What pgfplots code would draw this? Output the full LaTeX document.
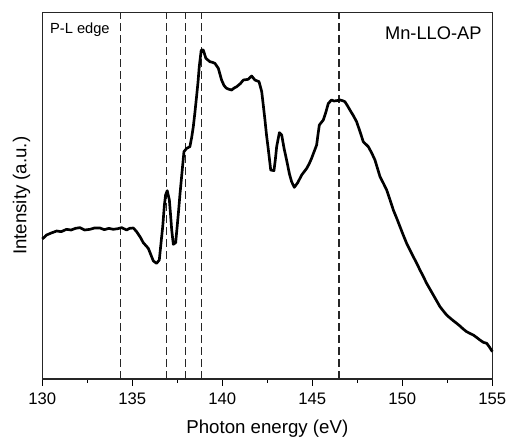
\documentclass[border=0pt]{standalone}
\usepackage{fontspec}
\setmainfont{Liberation Sans}
\usepackage{pgfplots}
\pgfplotsset{compat=1.18}
\begin{document}
\begin{tikzpicture}
\begin{axis}[
  scale only axis,
  width=337.5pt, height=274.7pt,
  xmin=130, xmax=155, ymin=0, ymax=1099,
  xtick={130,135,140,145,150,155},
  minor xtick={132.5,137.5,142.5,147.5,152.5},
  ytick=\empty,
  xtick pos=bottom,
  tick align=outside,
  major tick length=5pt,
  minor tick length=3pt,
  every tick/.style={black, line width=0.8pt},
  axis line style={line width=0.8pt, black!85},
  /pgf/number format/assume math mode=true,
  /pgf/number format/1000 sep={},
  tick label style={font=\fontsize{12.5}{14}\selectfont},
  xticklabel style={yshift=-2pt},
  xlabel={Photon energy (eV)},
  ylabel={Intensity (a.u.)},
  xlabel style={font=\fontsize{14}{16}\selectfont, at={(axis description cs:0.5,0)}, anchor=center, yshift=-37pt},
  ylabel style={font=\fontsize{14}{16}\selectfont, at={(axis description cs:-0.046,0.5)}, anchor=center},
  clip=false,
]
\addplot[black!85, line width=1.1pt, dash pattern=on 6pt off 3pt] coordinates {(134.35,0) (134.35,1099)};
\addplot[black!85, line width=1.1pt, dash pattern=on 6pt off 3pt] coordinates {(136.91,0) (136.91,1099)};
\addplot[black!85, line width=1.1pt, dash pattern=on 6pt off 3pt] coordinates {(137.96,0) (137.96,1099)};
\addplot[black!85, line width=1.1pt, dash pattern=on 6pt off 3pt] coordinates {(138.85,0) (138.85,1099)};
\addplot[black!85, line width=1.1pt, dash pattern=on 6pt off 3pt] coordinates {(146.48,0) (146.48,1099)};
\addplot[black, line width=2pt, line join=round] coordinates {
(130.00,420) (130.24,432) (130.50,438) (130.80,444) (131.05,442) (131.35,449) (131.60,447)
(131.85,452) (132.09,454) (132.35,447) (132.65,449) (132.90,453) (133.20,453) (133.45,448)
(133.70,452) (133.94,449) (134.20,451) (134.41,454) (134.69,447) (134.85,452) (135.06,453)
(135.24,442) (135.45,425) (135.61,409) (135.89,392) (136.17,354) (136.35,347) (136.50,357)
(136.60,410) (136.69,457) (136.78,520) (136.85,552) (136.94,565) (137.06,537) (137.13,490)
(137.19,447) (137.28,404) (137.41,409) (137.48,450) (137.56,497) (137.65,555) (137.74,607)
(137.87,682) (138.02,692) (138.20,697) (138.30,725) (138.39,757) (138.48,800) (138.57,847)
(138.65,890) (138.72,937) (138.83,987) (138.94,987) (139.09,962) (139.31,952) (139.45,950)
(139.59,947) (139.78,932) (139.96,897) (140.10,880) (140.24,872) (140.38,869) (140.52,867)
(140.66,873) (140.80,877) (141.00,886) (141.17,897) (141.30,898) (141.44,899) (141.63,909)
(141.81,897) (142.04,892) (142.19,862) (142.28,820) (142.37,777) (142.46,730) (142.56,687)
(142.69,627) (142.87,625) (142.95,660) (143.02,697) (143.17,739) (143.30,732) (143.43,692)
(143.52,670) (143.61,647) (143.73,615) (143.85,592) (144.00,575) (144.19,589) (144.41,612)
(144.55,622) (144.69,632) (144.83,646) (144.96,662) (145.10,682) (145.24,702) (145.32,735)
(145.39,762) (145.61,777) (145.75,800) (145.89,827) (146.07,837) (146.20,834) (146.35,835)
(146.54,837) (146.68,835) (146.81,832) (146.95,820) (147.09,807) (147.28,790) (147.46,772)
(147.65,742) (147.83,712) (148.11,697) (148.30,678) (148.48,657) (148.62,632) (148.76,607)
(148.95,587) (149.13,567) (149.32,537) (149.50,507) (149.69,482) (149.87,457) (150.05,432)
(150.24,407) (150.42,387) (150.61,367) (150.80,347) (150.98,327) (151.17,307) (151.35,287)
(151.53,270) (151.72,252) (151.90,235) (152.09,217) (152.28,204) (152.46,192) (152.65,183)
(152.83,175) (153.02,167) (153.20,159) (153.38,150) (153.57,142) (153.75,137) (153.94,132)
(154.12,125) (154.31,117) (154.50,110) (154.69,107) (154.85,95) (155.00,82)
};
\node[font=\fontsize{11}{13}\selectfont, anchor=center] at (axis cs:132.09,1047) {P-L edge};
\node[font=\fontsize{13.7}{16}\selectfont, anchor=center] at (axis cs:151.72,1037) {Mn-LLO-AP};
\end{axis}
\pgfresetboundingbox
\useasboundingbox ([xshift=-31.7pt,yshift=-46.5pt]current axis.south west) rectangle ([xshift=12.5pt,yshift=9.5pt]current axis.north east);
\end{tikzpicture}
\end{document}
